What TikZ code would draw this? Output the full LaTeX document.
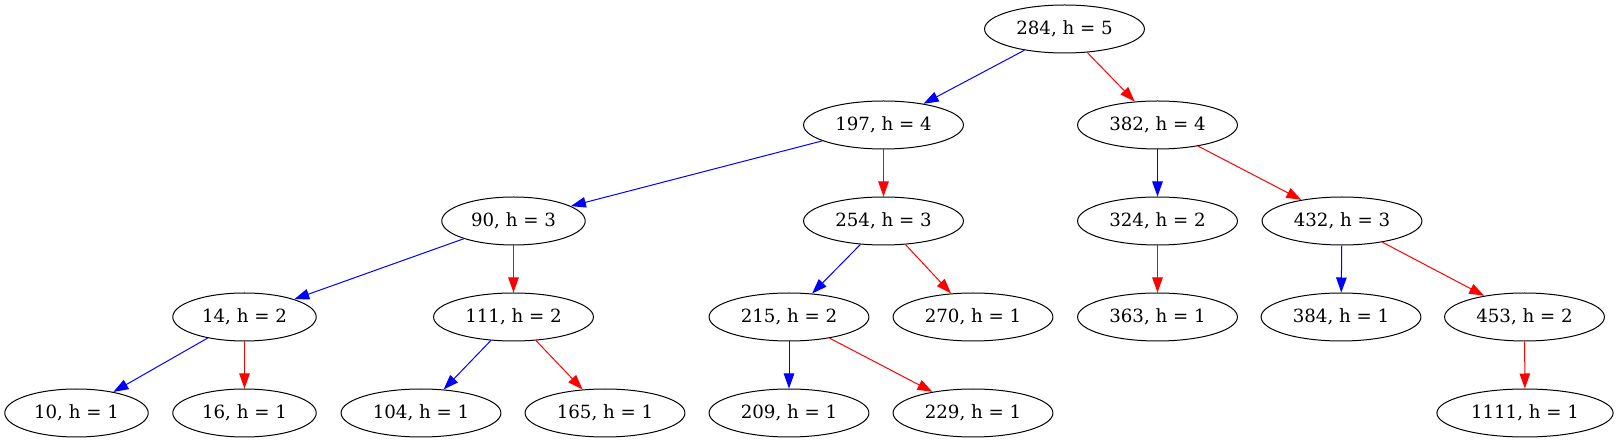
\documentclass[tikz,border=0pt]{standalone}
\usepackage{fontspec}
\setmainfont{DejaVu Serif}
\usetikzlibrary{shapes.geometric,arrows.meta}
\begin{document}
\begin{tikzpicture}[x=1pt,y=-1pt,
  tn/.style={ellipse,draw=black,line width=1pt,minimum height=48pt,inner xsep=8.3pt,inner ysep=0pt,font=\fontsize{18.2}{21}\selectfont},
  le/.style={draw=blue,line width=1pt,-{Triangle[length=15pt,width=10.5pt]}},
  ri/.style={draw=red,line width=1pt,-{Triangle[length=15pt,width=10.5pt]}}]
\useasboundingbox (0,0) rectangle (1618,443);
% row 1
\node[tn] (n284) at (1064.5,29) {284, h = 5};
% row 2
\node[tn] (n197) at (883.5,125) {197, h = 4};
\node[tn] (n382) at (1157.5,125) {382, h = 4};
% row 3
\node[tn] (n90) at (513.5,221) {90, h = 3};
\node[tn] (n254) at (883.5,221) {254, h = 3};
\node[tn] (n324) at (1157.5,221) {324, h = 2};
\node[tn] (n432) at (1342,221) {432, h = 3};
% row 4
\node[tn] (n14) at (244.5,317) {14, h = 2};
\node[tn] (n111) at (513.5,317) {111, h = 2};
\node[tn] (n215) at (789,317) {215, h = 2};
\node[tn] (n270) at (973,317) {270, h = 1};
\node[tn] (n363) at (1157.5,317) {363, h = 1};
\node[tn] (n384) at (1341,317) {384, h = 1};
\node[tn] (n453) at (1524.5,317) {453, h = 2};
% row 5
\node[tn] (n10) at (76.5,413) {10, h = 1};
\node[tn] (n16) at (244.5,413) {16, h = 1};
\node[tn] (n104) at (421,413) {104, h = 1};
\node[tn] (n165) at (605,413) {165, h = 1};
\node[tn] (n209) at (789,413) {209, h = 1};
\node[tn] (n229) at (973,413) {229, h = 1};
\node[tn] (n1111) at (1525,413) {1111, h = 1};
% edges
\draw[le] (n284) -- (n197);
\draw[ri] (n284) -- (n382);
\draw[le] (n197) -- (n90);
\draw[ri] (n197) -- (n254);
\draw[le] (n382) -- (n324);
\draw[ri] (n382) -- (n432);
\draw[le] (n90) -- (n14);
\draw[ri] (n90) -- (n111);
\draw[le] (n254) -- (n215);
\draw[ri] (n254) -- (n270);
\draw[ri] (n324) -- (n363);
\draw[le] (n432) -- (n384);
\draw[ri] (n432) -- (n453);
\draw[le] (n14) -- (n10);
\draw[ri] (n14) -- (n16);
\draw[le] (n111) -- (n104);
\draw[ri] (n111) -- (n165);
\draw[le] (n215) -- (n209);
\draw[ri] (n215) -- (n229);
\draw[ri] (n453) -- (n1111);
\end{tikzpicture}
\end{document}
